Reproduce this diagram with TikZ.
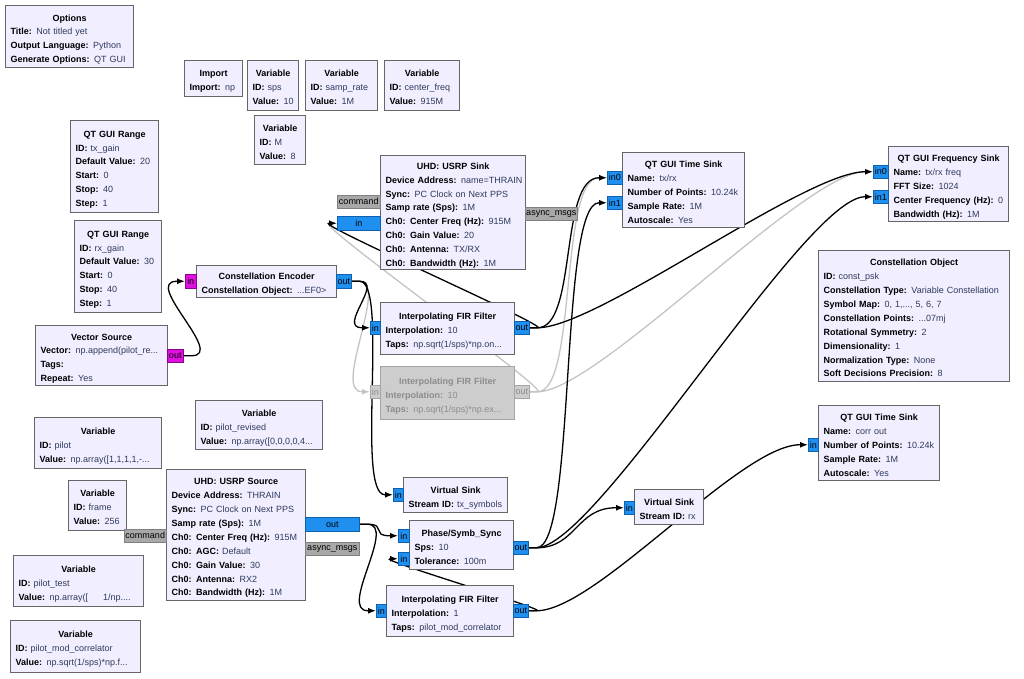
\documentclass[tikz,border=0pt]{standalone}
\usepackage{fontspec}
\setmainfont{Liberation Sans}
\usetikzlibrary{calc,arrows.meta}
\pgfdeclarelayer{back}
\pgfdeclarelayer{wires}
\pgfsetlayers{back,wires,main}
\definecolor{blkfill}{HTML}{F1EEFF}
\definecolor{blkdraw}{HTML}{666666}
\definecolor{valc}{HTML}{2E3A5C}
\definecolor{portblue}{HTML}{2090F0}
\definecolor{portbd}{HTML}{1060B0}
\definecolor{portmag}{HTML}{E010E0}
\definecolor{portmagbd}{HTML}{900090}
\definecolor{msgfill}{HTML}{A8A8A8}
\definecolor{msgbd}{HTML}{808080}
\definecolor{disfill}{HTML}{CDCDCD}
\definecolor{disdraw}{HTML}{A5A5A5}
\definecolor{distext}{HTML}{8C8C8C}
\definecolor{discon}{HTML}{C4C4C4}
\newcommand\kv[2]{\mbox{\textbf{#1:} \textcolor{valc}{#2}}}
\newcommand\kvd[2]{\mbox{\textbf{#1:} #2}}
\newcommand\ttl[1]{\makebox[\hsize][c]{\textbf{#1}}}
\tikzset{
 blk/.style={draw=blkdraw, fill=blkfill, line width=1.2pt, inner sep=0pt},
 dis/.style={draw=disdraw, fill=disfill},
 blktxt/.style={inner sep=0pt, align=left, font=\fontsize{9}{13.9}\selectfont},
 port/.style={draw=portbd, fill=portblue, line width=0.5pt, inner sep=0pt, font=\fontsize{9}{10}\selectfont},
 bport/.style={draw=portmagbd, fill=portmag},
 mport/.style={draw=msgbd, fill=msgfill},
 dport/.style={draw=disdraw, fill=disfill, text=distext},
 wire/.style={draw=black, line width=1.3pt, -{Latex[length=8pt,width=6pt]}},
 dwire/.style={draw=discon},
}
\newcommand\gblock[7][]{%
 \pgfmathsetmacro\gbW{#5-#3}\pgfmathsetmacro\gbH{#6-#4}\pgfmathsetmacro\gbT{#5-#3-10}%
 \node[blk,#1,minimum width=\gbW pt,minimum height=\gbH pt,anchor=north west] (#2) at (#3,#4) {};
 \node[blktxt,text width=\gbT pt] (#2-t) at ($(#2.center)+(0,2.5)$) {\strut#7\strut};
}
\newcommand\gport[7][]{%
 \pgfmathsetmacro\gbW{#5-#3}\pgfmathsetmacro\gbH{#6-#4}%
 \node[port,#1,minimum width=\gbW pt,minimum height=\gbH pt,anchor=north west] (#2) at (#3,#4) {#7};
}
\newcommand\gconn[4][]{%
 \draw[wire,#1] (#2.east) -- ++(8,0) .. controls +(#4,0) and +(-#4,0) .. ($(#3.west)+(-8,0)$) -- (#3.west);
}
\begin{document}
\begin{tikzpicture}[x=1pt,y=-1pt]
\begin{pgfonlayer}{back}
\fill[white] (0,0) rectangle (1024,678);
\end{pgfonlayer}
\useasboundingbox (0,0) rectangle (1024,678);

% ---------- blocks ----------
\gblock{options}{5}{5}{133}{67}{\ttl{Options}\\\kv{Title}{Not titled yet}\\\kv{Output Language}{Python}\\\kv{Generate Options}{QT GUI}}
\gblock{imp}{184}{60}{242}{96}{\ttl{Import}\\\kv{Import}{np}}
\gblock{vsps}{247}{60}{298}{110}{\ttl{Variable}\\\kv{ID}{sps}\\\kv{Value}{10}}
\gblock{vsr}{305}{60}{377}{110}{\ttl{Variable}\\\kv{ID}{samp\_rate}\\\kv{Value}{1M}}
\gblock{vcf}{384}{60}{459}{110}{\ttl{Variable}\\\kv{ID}{center\_freq}\\\kv{Value}{915M}}
\gblock{vM}{254}{115}{305}{164}{\ttl{Variable}\\\kv{ID}{M}\\\kv{Value}{8}}
\gblock{rtx}{70}{120}{158}{212}{\ttl{QT GUI Range}\\\kv{ID}{tx\_gain}\\\kv{Default Value}{20}\\\kv{Start}{0}\\\kv{Stop}{40}\\\kv{Step}{1}}
\gblock{rrx}{74}{220}{161}{312}{\ttl{QT GUI Range}\\\kv{ID}{rx\_gain}\\\kv{Default Value}{30}\\\kv{Start}{0}\\\kv{Stop}{40}\\\kv{Step}{1}}
\gblock{vsrc}{35}{325}{167}{385}{\ttl{Vector Source}\\\kv{Vector}{np.append(pilot\_re...}\\\kv{Tags}{}\\\kv{Repeat}{Yes}}
\gblock{cenc}{196}{265}{336}{297}{\ttl{Constellation Encoder}\\\kv{Constellation Object}{...EF0>}}
\gblock{usink}{380}{155}{525}{269}{\ttl{UHD: USRP Sink}\\\kv{Device Address}{name=THRAIN}\\\kv{Sync}{PC Clock on Next PPS}\\\kv{Samp rate (Sps)}{1M}\\\kv{Ch0: Center Freq (Hz)}{915M}\\\kv{Ch0: Gain Value}{20}\\\kv{Ch0: Antenna}{TX/RX}\\\kv{Ch0: Bandwidth (Hz)}{1M}}
\gblock{ts1}{622}{152}{744}{227}{\ttl{QT GUI Time Sink}\\\kv{Name}{tx/rx}\\\kv{Number of Points}{10.24k}\\\kv{Sample Rate}{1M}\\\kv{Autoscale}{Yes}}
\gblock{fs}{888}{146}{1008}{221}{\ttl{QT GUI Frequency Sink}\\\kv{Name}{tx/rx freq}\\\kv{FFT Size}{1024}\\\kv{Center Frequency (Hz)}{0}\\\kv{Bandwidth (Hz)}{1M}}
\gblock{cobj}{818}{250}{1009}{381}{\ttl{Constellation Object}\\\kv{ID}{const\_psk}\\\kv{Constellation Type}{Variable Constellation}\\\kv{Symbol Map}{0, 1,..., 5, 6, 7}\\\kv{Constellation Points}{...07mj}\\\kv{Rotational Symmetry}{2}\\\kv{Dimensionality}{1}\\\kv{Normalization Type}{None}\\\kv{Soft Decisions Precision}{8}}
\gblock{fir1}{380}{302}{514}{354}{\ttl{Interpolating FIR Filter}\\\kv{Interpolation}{10}\\\kv{Taps}{np.sqrt(1/sps)*np.on...}}
\node[blk,dis,minimum width=134pt,minimum height=53pt,anchor=north west] (fir2) at (380,366) {};
\node[blktxt,text width=124pt,text=distext] (fir2-t) at ($(fir2.center)+(0,2.5)$) {\strut\ttl{Interpolating FIR Filter}\\\kvd{Interpolation}{10}\\\kvd{Taps}{np.sqrt(1/sps)*np.ex...}\strut};
\gblock{vpilot}{34}{417}{161}{468}{\ttl{Variable}\\\kv{ID}{pilot}\\\kv{Value}{np.array([1,1,1,1,-...}}
\gblock{vprev}{195}{400}{322}{449}{\ttl{Variable}\\\kv{ID}{pilot\_revised}\\\kv{Value}{np.array([0,0,0,0,4...}}
\gblock{vframe}{68}{480}{126}{530}{\ttl{Variable}\\\kv{ID}{frame}\\\kv{Value}{256}}
\gblock{usrc}{166}{469}{305}{600}{\ttl{UHD: USRP Source}\\\kv{Device Address}{THRAIN}\\\kv{Sync}{PC Clock on Next PPS}\\\kv{Samp rate (Sps)}{1M}\\\kv{Ch0: Center Freq (Hz)}{915M}\\\kv{Ch0: AGC}{Default}\\\kv{Ch0: Gain Value}{30}\\\kv{Ch0: Antenna}{RX2}\\\kv{Ch0: Bandwidth (Hz)}{1M}}
\gblock{vptest}{13}{555}{143}{606}{\ttl{Variable}\\\kv{ID}{pilot\_test}\\\kv{Value}{np.array([\ \ \ \ \ 1/np....}}
\gblock{vpmc}{10}{620}{140}{672}{\ttl{Variable}\\\kv{ID}{pilot\_mod\_correlator}\\\kv{Value}{np.sqrt(1/sps)*np.f...}}
\gblock{vstx}{403}{477}{507}{512}{\ttl{Virtual Sink}\\\kv{Stream ID}{tx\_symbols}}
\gblock{pss}{409}{520}{513}{569}{\ttl{Phase/Symb\_Sync}\\\kv{Sps}{10}\\\kv{Tolerance}{100m}}
\gblock{fir3}{386}{585}{513}{636}{\ttl{Interpolating FIR Filter}\\\kv{Interpolation}{1}\\\kv{Taps}{pilot\_mod\_correlator}}
\gblock{vsrx}{634}{489}{703}{524}{\ttl{Virtual Sink}\\\kv{Stream ID}{rx}}
\gblock{ts2}{818}{405}{939}{480}{\ttl{QT GUI Time Sink}\\\kv{Name}{corr out}\\\kv{Number of Points}{10.24k}\\\kv{Sample Rate}{1M}\\\kv{Autoscale}{Yes}}

% ---------- ports ----------
\gport[bport]{vsrc-out}{167}{349}{183}{362}{out}
\gport[bport]{cenc-in}{185}{274}{196}{288}{in}
\gport{cenc-out}{336}{274}{351}{288}{out}
\gport[mport]{usink-cmd}{337}{195}{380}{208}{command}
\gport{usink-in}{337}{216}{380}{230}{in}
\gport[mport]{usink-async}{525}{207}{577}{220}{async\_msgs}
\gport{ts1-in0}{607}{171}{622}{184}{in0}
\gport{ts1-in1}{607}{196}{622}{209}{in1}
\gport{fs-in0}{873}{165}{888}{178}{in0}
\gport{fs-in1}{873}{190}{888}{203}{in1}
\gport{fir1-in}{370}{321}{380}{334}{in}
\gport{fir1-out}{514}{321}{529}{334}{out}
\gport[dport]{fir2-in}{370}{385}{380}{398}{in}
\gport[dport]{fir2-out}{514}{385}{529}{398}{out}
\gport[mport]{usrc-cmd}{124}{529}{166}{542}{command}
\gport{usrc-out}{305}{517}{359}{531}{out}
\gport[mport]{usrc-async}{305}{542}{359}{555}{async\_msgs}
\gport{vstx-in}{393}{488}{403}{501}{in}
\gport{pss-in0}{398}{529}{409}{542}{in}
\gport{pss-in1}{398}{552}{409}{565}{in}
\gport{pss-out}{513}{541}{528}{554}{out}
\gport{fir3-in}{376}{604}{386}{617}{in}
\gport{fir3-out}{513}{604}{528}{617}{out}
\gport{vsrx-in}{624}{501}{634}{514}{in}
\gport{ts2-in}{808}{438}{818}{451}{in}

% ---------- connections ----------
\begin{pgfonlayer}{wires}
\gconn[dwire]{cenc-out}{fir2-in}{30}
\gconn[dwire]{fir2-out}{usink-in}{15}
\gconn[dwire]{fir2-out}{ts1-in0}{40}
\gconn[dwire]{fir2-out}{fs-in0}{60}
\gconn{vsrc-out}{cenc-in}{35}
\gconn{cenc-out}{fir1-in}{25}
\gconn{cenc-out}{vstx-in}{30}
\gconn{fir1-out}{usink-in}{15}
\gconn{fir1-out}{ts1-in0}{40}
\gconn{fir1-out}{fs-in0}{60}
\gconn{pss-out}{ts1-in1}{40}
\gconn{pss-out}{fs-in1}{60}
\gconn{pss-out}{vsrx-in}{40}
\gconn{fir3-out}{ts2-in}{60}
\gconn{fir3-out}{pss-in1}{15}
\gconn{usrc-out}{pss-in0}{20}
\gconn{usrc-out}{fir3-in}{30}
\end{pgfonlayer}
\end{tikzpicture}
\end{document}
